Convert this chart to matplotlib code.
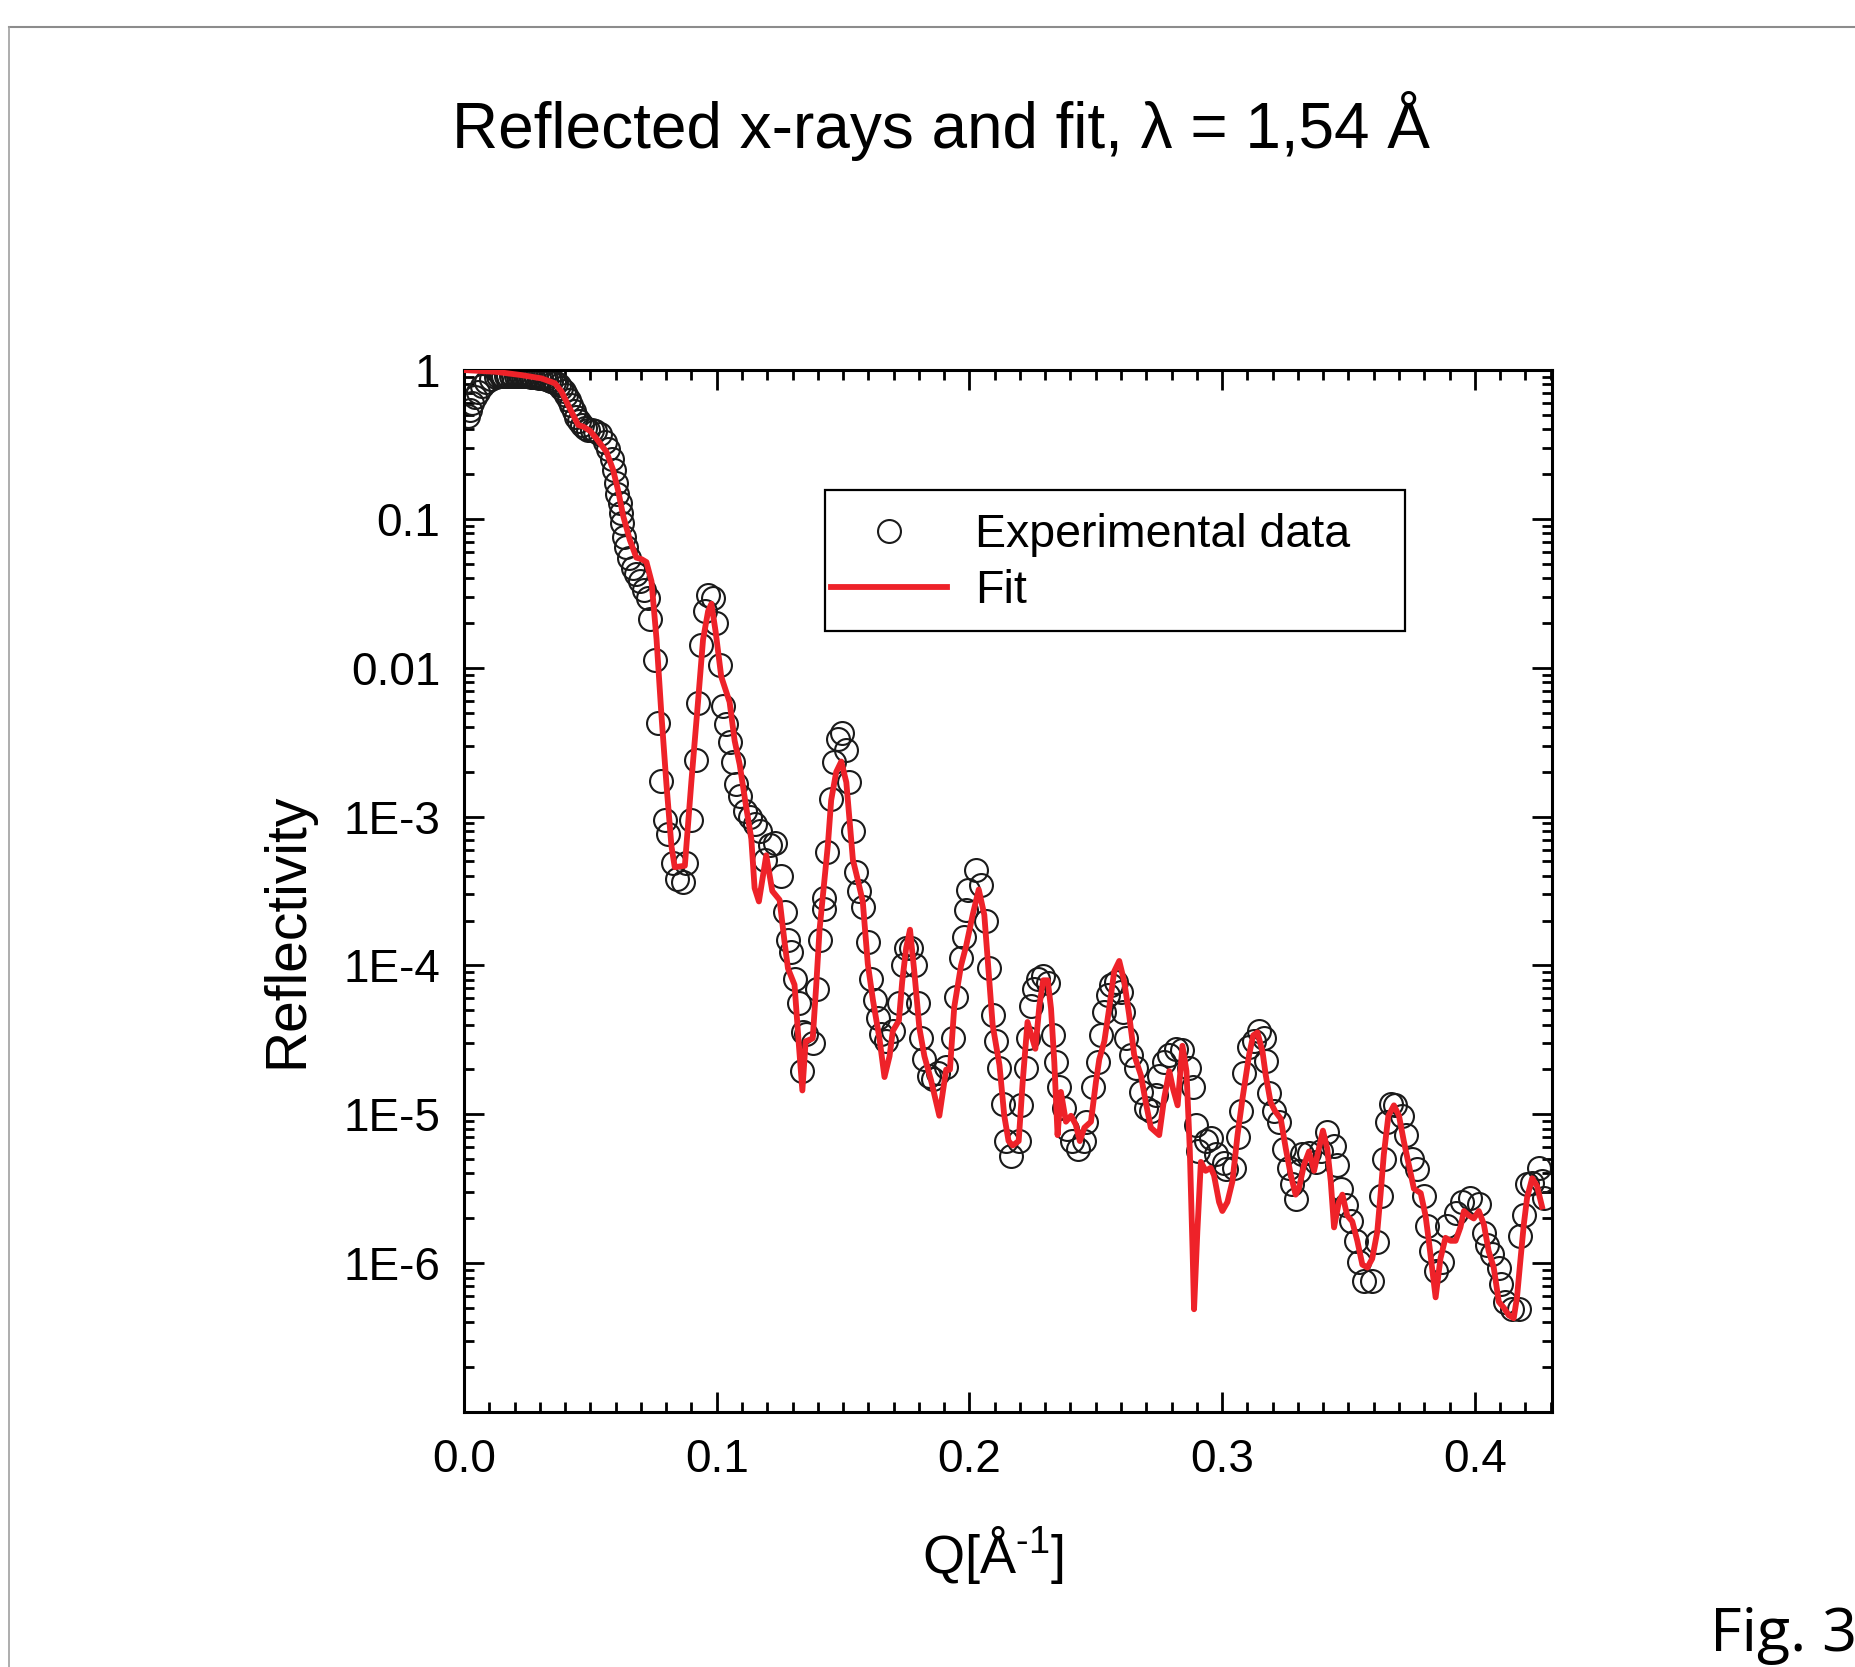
import matplotlib
matplotlib.use("Agg")
import matplotlib.pyplot as plt
import numpy as np
from matplotlib.ticker import MultipleLocator, LogLocator, NullFormatter
from matplotlib.lines import Line2D
from matplotlib.patches import Rectangle

plt.rcParams['font.family'] = ['Liberation Sans', 'DejaVu Sans']
plt.rcParams['mathtext.fontset'] = 'custom'
plt.rcParams['mathtext.rm'] = 'Liberation Sans'

# ---- data (Q in 1/A, reflectivity as log10) ----
exp_q = [0.0015, 0.0024, 0.0033, 0.0043, 0.0057, 0.0073, 0.0089, 0.0107, 0.0125, 0.0135,
         0.0145, 0.0155, 0.0165, 0.0175, 0.0185, 0.0195, 0.0205, 0.0215, 0.0225, 0.0235,
         0.0245, 0.0255, 0.0265, 0.0275, 0.0285, 0.0295, 0.0305, 0.0315, 0.0325, 0.0335,
         0.0345, 0.0355, 0.0365, 0.0375, 0.0385, 0.0395, 0.0405, 0.0415, 0.0425, 0.0435,
         0.0445, 0.0455, 0.0465, 0.0478, 0.0491, 0.0505, 0.0518, 0.0538, 0.0557, 0.0570,
         0.0584, 0.0593, 0.0601, 0.0607, 0.0617, 0.0623, 0.0627, 0.0634, 0.0643, 0.0653,
         0.0667, 0.0682, 0.0696, 0.0711, 0.0729, 0.0738, 0.0755, 0.0768, 0.0781, 0.0794,
         0.0808, 0.0827, 0.0841, 0.0867, 0.0877, 0.0900, 0.0917, 0.0926, 0.0939, 0.0953,
         0.0966, 0.0986, 0.0999, 0.1012, 0.1025, 0.1038, 0.1051, 0.1064, 0.1077, 0.1091,
         0.1111, 0.1130, 0.1150, 0.1170, 0.1190, 0.1209, 0.1229, 0.1255, 0.1269, 0.1282,
         0.1295, 0.1308, 0.1324, 0.1339, 0.1341, 0.1354, 0.1380, 0.1396, 0.1409, 0.1423,
         0.1425, 0.1436, 0.1453, 0.1466, 0.1480, 0.1497, 0.1510, 0.1523, 0.1539, 0.1552,
         0.1565, 0.1578, 0.1598, 0.1611, 0.1625, 0.1638, 0.1651, 0.1671, 0.1697, 0.1723,
         0.1737, 0.1750, 0.1770, 0.1783, 0.1796, 0.1809, 0.1822, 0.1842, 0.1856, 0.1875,
         0.1908, 0.1934, 0.1947, 0.1967, 0.1980, 0.1987, 0.1993, 0.2026, 0.2046, 0.2066,
         0.2079, 0.2092, 0.2105, 0.2119, 0.2132, 0.2145, 0.2165, 0.2198, 0.2204, 0.2224,
         0.2230, 0.2243, 0.2257, 0.2270, 0.2290, 0.2310, 0.2329, 0.2342, 0.2356, 0.2375,
         0.2388, 0.2408, 0.2428, 0.2455, 0.2461, 0.2488, 0.2507, 0.2520, 0.2534, 0.2547,
         0.2560, 0.2580, 0.2600, 0.2606, 0.2620, 0.2639, 0.2659, 0.2679, 0.2698, 0.2718,
         0.2738, 0.2751, 0.2771, 0.2791, 0.2817, 0.2843, 0.2870, 0.2883, 0.2896, 0.2903,
         0.2935, 0.2955, 0.2975, 0.3008, 0.3014, 0.3048, 0.3061, 0.3074, 0.3087, 0.3107,
         0.3127, 0.3146, 0.3166, 0.3173, 0.3186, 0.3206, 0.3226, 0.3246, 0.3265, 0.3278,
         0.3291, 0.3304, 0.3318, 0.3344, 0.3370, 0.3390, 0.3416, 0.3443, 0.3456, 0.3469,
         0.3489, 0.3509, 0.3529, 0.3542, 0.3561, 0.3594, 0.3614, 0.3627, 0.3640, 0.3653,
         0.3667, 0.3686, 0.3713, 0.3726, 0.3752, 0.3772, 0.3799, 0.3812, 0.3825, 0.3845,
         0.3871, 0.3891, 0.3924, 0.3950, 0.3983, 0.4016, 0.4036, 0.4049, 0.4069, 0.4095,
         0.4102, 0.4121, 0.4148, 0.4174, 0.4180, 0.4194, 0.4207, 0.4227, 0.4253, 0.4266,
         0.4273]
exp_logr = [-0.31, -0.27, -0.22, -0.18, -0.145, -0.11, -0.083, -0.06, -0.047, -0.043,
            -0.040, -0.039, -0.038, -0.038, -0.038, -0.039, -0.040, -0.040, -0.041, -0.042,
            -0.042, -0.043, -0.044, -0.046, -0.047, -0.050, -0.053, -0.056, -0.060, -0.064,
            -0.071, -0.080, -0.090, -0.102, -0.118, -0.141, -0.167, -0.200, -0.235, -0.275,
            -0.315, -0.345, -0.37, -0.39, -0.40, -0.40, -0.41, -0.43, -0.48, -0.53,
            -0.60, -0.67, -0.76, -0.83, -0.89, -0.96, -1.03, -1.12, -1.19, -1.26,
            -1.33, -1.37, -1.42, -1.48, -1.53, -1.67, -1.95, -2.37, -2.76, -3.02,
            -3.12, -3.31, -3.42, -3.44, -3.31, -3.02, -2.62, -2.24, -1.85, -1.62,
            -1.51, -1.53, -1.70, -1.98, -2.26, -2.38, -2.50, -2.63, -2.78, -2.86,
            -2.96, -3.00, -3.05, -3.10, -3.29, -3.19, -3.18, -3.40, -3.64, -3.83,
            -3.91, -4.09, -4.25, -4.71, -4.45, -4.46, -4.52, -4.16, -3.83, -3.62,
            -3.55, -3.24, -2.88, -2.63, -2.48, -2.44, -2.55, -2.77, -3.10, -3.37,
            -3.50, -3.61, -3.84, -4.09, -4.23, -4.35, -4.46, -4.51, -4.44, -4.25,
            -4.00, -3.88, -3.88, -4.00, -4.25, -4.49, -4.63, -4.74, -4.76, -4.72,
            -4.68, -4.49, -4.21, -3.95, -3.81, -3.63, -3.49, -3.36, -3.46, -3.70,
            -4.02, -4.33, -4.51, -4.69, -4.93, -5.18, -5.28, -5.18, -4.94, -4.69,
            -4.49, -4.27, -4.16, -4.09, -4.07, -4.12, -4.47, -4.65, -4.82, -4.96,
            -5.10, -5.18, -5.23, -5.18, -5.05, -4.82, -4.65, -4.47, -4.31, -4.20,
            -4.13, -4.11, -4.18, -4.31, -4.49, -4.60, -4.69, -4.85, -4.96, -4.98,
            -4.87, -4.74, -4.65, -4.60, -4.56, -4.57, -4.69, -4.82, -5.07, -5.25,
            -5.18, -5.16, -5.27, -5.33, -5.37, -5.36, -5.15, -4.98, -4.72, -4.55,
            -4.51, -4.44, -4.49, -4.64, -4.86, -4.98, -5.05, -5.23, -5.36, -5.47,
            -5.57, -5.38, -5.27, -5.26, -5.32, -5.25, -5.12, -5.21, -5.34, -5.50,
            -5.61, -5.72, -5.85, -5.99, -6.12, -6.12, -5.86, -5.55, -5.30, -5.05,
            -4.93, -4.94, -5.01, -5.14, -5.30, -5.37, -5.55, -5.75, -5.92, -6.05,
            -5.99, -5.75, -5.66, -5.59, -5.56, -5.60, -5.80, -5.88, -5.94, -6.03,
            -6.14, -6.26, -6.31, -6.31, -5.82, -5.68, -5.47, -5.46, -5.36, -5.45,
            -5.56]

fit_q = [0.0, 0.0123, 0.0228, 0.0307, 0.0360, 0.0386, 0.0412, 0.0432, 0.0452, 0.0472,
         0.0500, 0.0524, 0.0564, 0.0590, 0.0610, 0.0630, 0.0656, 0.0682, 0.0702, 0.0722,
         0.0742, 0.0762, 0.0781, 0.0801, 0.0821, 0.0834, 0.0874, 0.0900, 0.0926, 0.0946,
         0.0966, 0.0979, 0.0996, 0.1018, 0.1051, 0.1071, 0.1091, 0.1117, 0.1137, 0.1150,
         0.1167, 0.1196, 0.1220, 0.1249, 0.1269, 0.1282, 0.1308, 0.1325, 0.1339, 0.1352,
         0.1380, 0.1394, 0.1407, 0.1427, 0.1440, 0.1453, 0.1473, 0.1493, 0.1513, 0.1526,
         0.1539, 0.1559, 0.1578, 0.1598, 0.1618, 0.1644, 0.1664, 0.1684, 0.1697, 0.1721,
         0.1734, 0.1750, 0.1765, 0.1783, 0.1802, 0.1822, 0.1848, 0.1881, 0.1908, 0.1923,
         0.1940, 0.1967, 0.1987, 0.2013, 0.2037, 0.2059, 0.2072, 0.2092, 0.2119, 0.2138,
         0.2155, 0.2171, 0.2195, 0.2211, 0.2230, 0.2261, 0.2277, 0.2292, 0.2310, 0.2323,
         0.2336, 0.2349, 0.2362, 0.2382, 0.2402, 0.2421, 0.2437, 0.2455, 0.2481, 0.2501,
         0.2514, 0.2534, 0.2553, 0.2573, 0.2593, 0.2613, 0.2632, 0.2652, 0.2679, 0.2698,
         0.2718, 0.2751, 0.2771, 0.2791, 0.2806, 0.2824, 0.2843, 0.2859, 0.2872, 0.2883,
         0.2889, 0.2902, 0.2916, 0.2935, 0.2955, 0.2968, 0.2988, 0.3001, 0.3021, 0.3041,
         0.3061, 0.3081, 0.3107, 0.3123, 0.3140, 0.3160, 0.3173, 0.3192, 0.3210, 0.3232,
         0.3252, 0.3272, 0.3291, 0.3304, 0.3324, 0.3344, 0.3364, 0.3383, 0.3399, 0.3416,
         0.3430, 0.3443, 0.3462, 0.3476, 0.3495, 0.3515, 0.3535, 0.3555, 0.3575, 0.3594,
         0.3614, 0.3627, 0.3640, 0.3658, 0.3680, 0.3700, 0.3719, 0.3739, 0.3759, 0.3786,
         0.3805, 0.3818, 0.3832, 0.3845, 0.3864, 0.3884, 0.3904, 0.3924, 0.3943, 0.3957,
         0.3976, 0.3996, 0.4016, 0.4036, 0.4055, 0.4075, 0.4095, 0.4115, 0.4134, 0.4154,
         0.4167, 0.4180, 0.4194, 0.4207, 0.4227, 0.4246, 0.4266]
fit_logr = [0.0, -0.011, -0.034, -0.056, -0.089, -0.145, -0.235, -0.302, -0.369, -0.38,
            -0.41, -0.46, -0.55, -0.67, -0.81, -0.98, -1.14, -1.26, -1.27, -1.29,
            -1.42, -1.81, -2.31, -2.78, -3.20, -3.34, -3.33, -2.76, -2.23, -1.81,
            -1.62, -1.57, -1.76, -2.06, -2.23, -2.49, -2.65, -2.94, -3.15, -3.48,
            -3.57, -3.26, -3.50, -3.56, -3.85, -4.02, -4.13, -4.53, -4.84, -4.51,
            -4.49, -4.13, -3.76, -3.41, -3.19, -2.89, -2.70, -2.63, -2.77, -3.03,
            -3.29, -3.43, -3.57, -3.99, -4.23, -4.49, -4.75, -4.61, -4.44, -4.37,
            -4.11, -3.88, -3.76, -4.06, -4.42, -4.61, -4.77, -5.01, -4.70, -4.70,
            -4.28, -4.00, -3.87, -3.66, -3.49, -3.66, -3.95, -4.40, -4.67, -5.01,
            -5.18, -5.21, -5.18, -4.78, -4.38, -4.56, -4.27, -4.10, -4.10, -4.29,
            -4.65, -5.14, -4.85, -5.05, -5.01, -5.07, -5.18, -5.09, -5.05, -4.78,
            -4.63, -4.51, -4.29, -4.04, -3.97, -4.11, -4.33, -4.60, -4.74, -4.92,
            -5.09, -5.14, -4.89, -4.71, -4.83, -4.94, -4.54, -4.71, -5.23, -5.90,
            -6.31, -5.79, -5.32, -5.38, -5.36, -5.41, -5.59, -5.65, -5.59, -5.45,
            -5.14, -4.89, -4.60, -4.47, -4.45, -4.58, -4.74, -4.92, -4.98, -5.03,
            -5.23, -5.41, -5.54, -5.50, -5.34, -5.25, -5.38, -5.23, -5.11, -5.23,
            -5.45, -5.76, -5.59, -5.54, -5.68, -5.72, -5.85, -6.01, -6.03, -5.97,
            -5.79, -5.54, -5.27, -5.01, -4.94, -5.01, -5.18, -5.34, -5.50, -5.53,
            -5.68, -5.85, -6.05, -6.23, -5.97, -5.83, -5.85, -5.85, -5.76, -5.65,
            -5.68, -5.70, -5.65, -5.74, -5.92, -6.03, -6.26, -6.30, -6.35, -6.37,
            -6.23, -5.99, -5.74, -5.56, -5.43, -5.48, -5.62]

x_ticks = [0.0, 0.1, 0.2, 0.3, 0.4]
x_ticklabels = ['0.0', '0.1', '0.2', '0.3', '0.4']
y_ticks = [1, 0.1, 0.01, 1e-3, 1e-4, 1e-5, 1e-6]
y_ticklabels = ['1', '0.1', '0.01', '1E-3', '1E-4', '1E-5', '1E-6']

exp_r = 10 ** np.array(exp_logr)
fit_r = 10 ** np.array(fit_logr)

fig = plt.figure(figsize=(18.56, 16.67), dpi=100)
ax = fig.add_axes([0.25, 0.153, 0.586, 0.625])

ax.plot(exp_q, exp_r, 'o', ms=16.5, mfc='none', mec='#1a1a1a', mew=1.5,
        label='Experimental data', zorder=2)
ax.plot(fit_q, fit_r, '-', color='#ee2229', lw=4.2, label='Fit', zorder=3)

ax.set_yscale('log')
ax.set_xlim(0, 0.4304)
ax.set_ylim(1e-7, 1)

ax.set_xticks(x_ticks)
ax.set_xticklabels(x_ticklabels)
ax.xaxis.set_minor_locator(MultipleLocator(0.01))
ax.set_yticks(y_ticks)
ax.set_yticklabels(y_ticklabels)
ax.yaxis.set_minor_locator(LogLocator(base=10, subs=np.arange(2, 10), numticks=20))
ax.yaxis.set_minor_formatter(NullFormatter())

ax.tick_params(which='both', direction='in', top=True, right=True, width=2.0)
ax.tick_params(which='major', length=14.5, labelsize=33)
ax.tick_params(axis='x', which='major', pad=19)
ax.tick_params(axis='y', which='major', pad=17)
ax.tick_params(which='minor', length=7.5)
for s in ax.spines.values():
    s.set_linewidth(2.2)

ax.set_ylabel('Reflectivity', fontsize=41)
ax.yaxis.set_label_coords(-0.138, 0.4625)
ax.set_xlabel(r'Q[Å$^{\text{-1}}$]', fontsize=39)
ax.xaxis.set_label_coords(0.486, -0.108)

# legend: entries without frame, frame drawn as its own box
leg = ax.legend(loc='upper left', bbox_to_anchor=(0.3373, 0.863),
                fontsize=33.5, frameon=False, borderpad=0, labelspacing=0.27,
                handlelength=2.5, handletextpad=0.6, borderaxespad=0)
ax.add_patch(Rectangle((0.332, 0.750), 0.533, 0.135, transform=ax.transAxes,
                       fill=False, edgecolor='black', lw=1.6, zorder=5))

fig.text(0.507, 0.911, 'Reflected x-rays and fit, λ = 1,54 Å', fontsize=46,
         ha='center', va='baseline')
fig.text(0.9213, 0.0096, 'Fig. 3', fontsize=44, family='Open Sans',
         ha='left', va='baseline')

# page frame lines
fig.add_artist(Line2D([9 / 1856, 1.0], [1 - 27 / 1667, 1 - 27 / 1667],
                      transform=fig.transFigure, color='#8c8c8c', lw=1.5))
fig.add_artist(Line2D([9 / 1856, 9 / 1856], [0.0, 1 - 27 / 1667],
                      transform=fig.transFigure, color='#a0a0a0', lw=1.2))

fig.savefig('out.png', dpi=100)
